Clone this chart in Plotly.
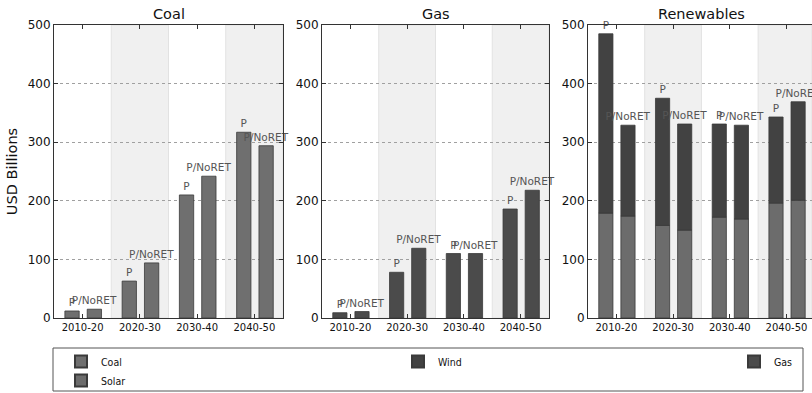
import plotly.graph_objects as go

periods = ["2010-20", "2020-30", "2030-40", "2040-50"]

coal_p = [12, 63, 210, 317]
coal_noret = [15, 94, 242, 294]

gas_p = [9, 78, 110, 186]
gas_noret = [11, 119, 110, 218]

solar_p = [179, 158, 172, 196]
solar_noret = [174, 150, 169, 201]
wind_p = [306, 217, 159, 147]
wind_noret = [155, 181, 160, 168]

y_ticks = [0, 100, 200, 300, 400, 500]

COAL_C = "#6f6f6f"
GAS_C = "#4b4b4b"
SOLAR_C = "#6c6c6c"
WIND_C = "#424242"
EDGE = "#3a3a3a"

FONT = "DejaVu Sans"
P_OFF, N_OFF, BW = -0.31, 0.08, 0.25
LBL = dict(family=FONT, size=10.5, color="#555555")

fig = go.Figure()


def add_bar(xa, ya, y, color, name, label, offset, legend=None, show=False, base=None):
    fig.add_trace(go.Bar(
        x=periods, y=y, base=base, xaxis=xa, yaxis=ya,
        offset=offset, width=BW,
        marker=dict(color=color, line=dict(color=EDGE, width=0.8)),
        name=name, showlegend=show, legend=legend,
        text=[label] * len(periods) if label else None,
        textposition="outside" if label else "none",
        textfont=LBL, outsidetextfont=LBL,
        constraintext="none", cliponaxis=False,
        hoverinfo="y+name",
    ))


# Coal
add_bar("x", "y", coal_p, COAL_C, "Coal", "P", P_OFF, legend="legend", show=True)
add_bar("x", "y", coal_noret, COAL_C, "Coal", "P/NoRET", N_OFF)
# Gas
add_bar("x2", "y2", gas_p, GAS_C, "Gas", "P", P_OFF, legend="legend3", show=True)
add_bar("x2", "y2", gas_noret, GAS_C, "Gas", "P/NoRET", N_OFF)
# Renewables (stacked via base)
add_bar("x3", "y3", solar_p, SOLAR_C, "Solar", None, P_OFF, legend="legend", show=True)
add_bar("x3", "y3", solar_noret, SOLAR_C, "Solar", None, N_OFF)
add_bar("x3", "y3", wind_p, WIND_C, "Wind", "P", P_OFF, legend="legend2", show=True, base=solar_p)
add_bar("x3", "y3", wind_noret, WIND_C, "Wind", "P/NoRET", N_OFF, base=solar_noret)

W, H = 812, 393
ydom = [1 - 318 / H, 1 - 25 / H]
doms = [[54 / W, 283 / W], [322 / W, 549 / W], [588 / W, 1.0]]
xranges = [[-0.5, 3.5], [-0.5, 3.5], [-0.5, 3.45]]

axis_common = dict(
    showline=True, linecolor="#333333", linewidth=1,
    ticks="inside", ticklen=4, tickcolor="#333333",
    zeroline=False, automargin=False,
)

layout = dict(
    width=W, height=H,
    margin=dict(l=0, r=0, t=0, b=0, autoexpand=False),
    paper_bgcolor="white", plot_bgcolor="white",
    barmode="overlay",
    font=dict(family=FONT, color="#111111"),
    shapes=[], annotations=[],
)

titles = ["Coal", "Gas", "Renewables"]
for i in range(3):
    sx = "" if i == 0 else str(i + 1)
    layout["xaxis" + sx] = dict(
        domain=doms[i], anchor="y" + sx, type="category",
        categoryorder="array", categoryarray=periods,
        range=xranges[i], mirror="ticks",
        showgrid=False, tickfont=dict(size=10, family=FONT, color="#111111"),
        **axis_common,
    )
    layout["yaxis" + sx] = dict(
        domain=ydom, anchor="x" + sx, range=[0, 500],
        tickvals=y_ticks, mirror="ticks" if i < 2 else False,
        showgrid=True, gridcolor="#a0a0a0", griddash="dot", gridwidth=1,
        tickfont=dict(size=12, family=FONT, color="#111111"),
        **axis_common,
    )
    # alternating shaded bands for 2020-30 and 2040-50
    for k in (1, 3):
        x1 = min(k + 0.5, xranges[i][1])
        layout["shapes"].append(dict(
            type="rect", xref="x" + sx, yref="y" + sx + " domain",
            x0=k - 0.5, x1=x1, y0=0, y1=1,
            fillcolor="#f0f0f0", line=dict(color="#e2e2e2", width=1),
            layer="below",
        ))
    layout["annotations"].append(dict(
        text=titles[i], xref="paper", yref="paper",
        x=(doms[i][0] + (doms[i][1] if i < 2 else 815 / W)) / 2, y=1 - 14 / H,
        xanchor="center", yanchor="middle", showarrow=False,
        font=dict(size=14.5, family=FONT, color="#111111"),
    ))

layout["yaxis"]["title"] = dict(text="USD Billions", font=dict(size=14.5, family=FONT, color="#111111"), standoff=6)

# legend frame
layout["shapes"].append(dict(
    type="rect", xref="paper", yref="paper",
    x0=53 / W, x1=803 / W, y0=1 - 391 / H, y1=1 - 348 / H,
    line=dict(color="#555555", width=1), fillcolor="rgba(0,0,0,0)",
))

LEG_FONT = dict(family="DejaVu Sans Condensed, Liberation Sans Narrow, DejaVu Sans", size=10.5, color="#111111")
leg_common = dict(bgcolor="rgba(0,0,0,0)", borderwidth=0, font=LEG_FONT,
                  xanchor="left", yanchor="top", tracegroupgap=0,
                  itemsizing="constant", orientation="v")
layout["legend"] = dict(x=61 / W, y=1 - 347 / H, **leg_common)
layout["legend2"] = dict(x=398 / W, y=1 - 347 / H, **leg_common)
layout["legend3"] = dict(x=734 / W, y=1 - 347 / H, **leg_common)

fig.update_layout(**layout)
fig.write_html("out.html")
